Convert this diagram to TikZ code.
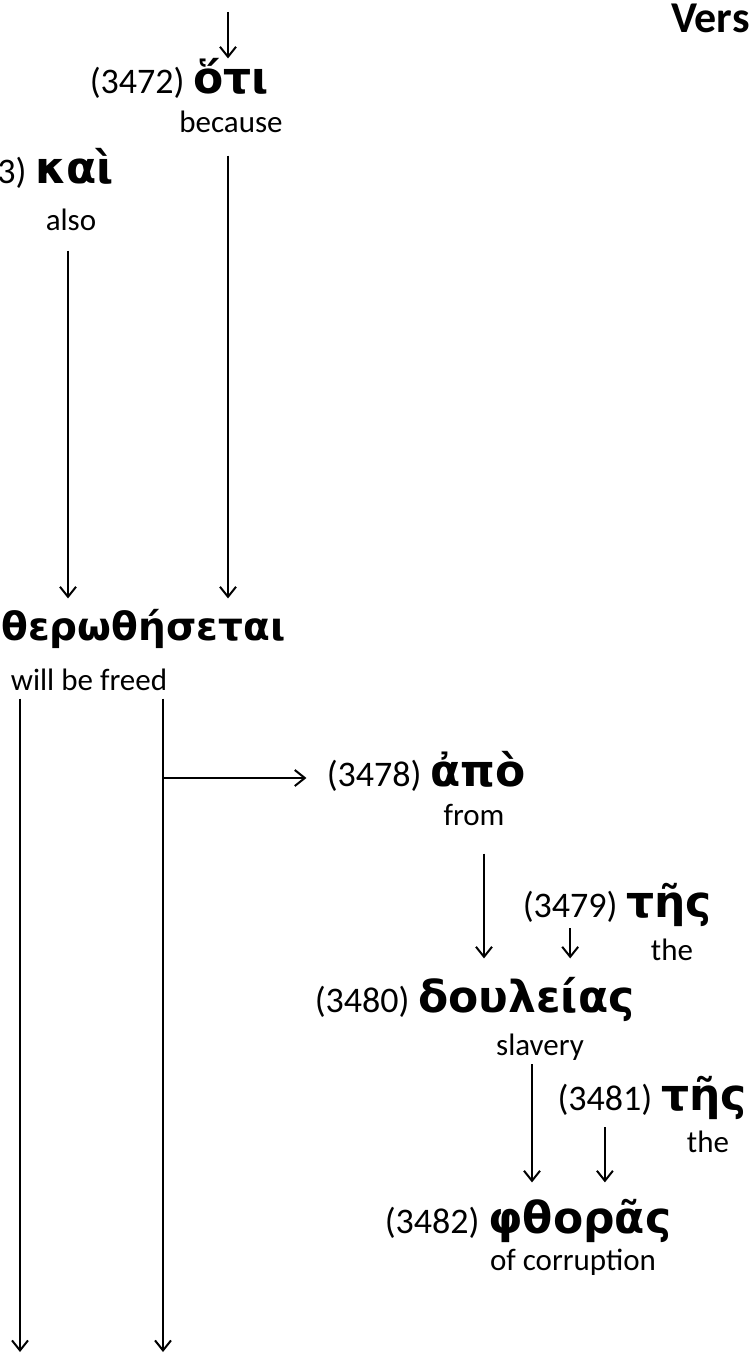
\documentclass[tikz,border=0pt]{standalone}
\usepackage{fontspec}
\setmainfont{Carlito}
\newfontfamily\grkfont{DejaVu Sans}
\usetikzlibrary{positioning}
\usetikzlibrary{arrows.meta}
\tikzstyle{word}=[font=\grkfont\bfseries\fontsize{22}{22}\selectfont, inner sep=0pt]
\tikzstyle{num}=[font=\fontsize{18}{18}\selectfont, inner sep=0pt]
\tikzstyle{gloss}=[font=\fontsize{15.5}{15.5}\selectfont, inner sep=0pt]
\tikzstyle{verse}=[font=\bfseries\fontsize{22}{22}\selectfont, inner sep=0pt]
\tikzstyle{link}=[-{Straight Barb[length=5pt,width=8pt]}, line width=1pt]

\begin{document}
\begin{tikzpicture}[x=0.5pt, y=-0.5pt]
    \useasboundingbox (0,0) rectangle (750,1354);

    \node[verse, anchor=base east] (verse) at (750,33) {Vers};

    % words, numbers and glosses
    \node[word, anchor=base west] (w3472) at (193,94) {ὅτι};
    \node[num, left=4pt of w3472.base west, anchor=base east] (n3472) {(3472)};
    \node[gloss, anchor=base] (g3472) at (231,133) {because};

    \node[word, anchor=base west] (w3473) at (35,184) {καὶ};
    \node[num, left=4pt of w3473.base west, anchor=base east] (n3473) {3)};
    \node[gloss, anchor=base] (g3473) at (71,230) {also};

    \node[word, anchor=base west, font=\grkfont\bfseries\fontsize{19.5}{19.5}\selectfont] (w3477) at (1,640) {θερωθήσεται};
    \node[gloss, anchor=base] (g3477) at (89,690) {will be freed};

    \node[word, anchor=base west] (w3478) at (430,786) {ἀπὸ};
    \node[num, left=4pt of w3478.base west, anchor=base east] (n3478) {(3478)};
    \node[gloss, anchor=base] (g3478) at (474,825) {from};

    \node[word, anchor=base west] (w3479) at (626,917) {τῆς};
    \node[num, left=4pt of w3479.base west, anchor=base east] (n3479) {(3479)};
    \node[gloss, anchor=base] (g3479) at (672,960) {the};

    \node[word, anchor=base west] (w3480) at (418,1012) {δουλείας};
    \node[num, left=4pt of w3480.base west, anchor=base east] (n3480) {(3480)};
    \node[gloss, anchor=base] (g3480) at (540,1055) {slavery};

    \node[word, anchor=base east] (w3481) at (747,1110) {τῆς};
    \node[num, left=4pt of w3481.base west, anchor=base east] (n3481) {(3481)};
    \node[gloss, anchor=base] (g3481) at (708,1152) {the};

    \node[word, anchor=base west] (w3482) at (488,1233) {φθορᾶς};
    \node[num, left=4pt of w3482.base west, anchor=base east] (n3482) {(3482)};
    \node[gloss, anchor=base] (g3482) at (573,1270) {of corruption};

    % free ends
    \coordinate (in)   at (228,12);
    \coordinate (out1) at (20,1352);
    \coordinate (out2) at (163,1352);
    \coordinate (fork) at (163,778);

    \draw[link] (in) -- (in |- w3472.north);
    \draw[link, shorten <=11pt, shorten >=5pt] (g3472.south -| in) -- (w3477.north -| in);
    \draw[link, shorten <=10pt, shorten >=5pt] (g3473.south -| 68,0) -- (w3477.north -| 68,0);
    \draw[link, shorten <=4pt] (g3477.south -| out1) -- (out1);
    \draw[link, shorten <=4pt] (g3477.south -| out2) -- (out2);
    \draw[link, shorten >=10pt] (fork) -- (fork -| n3478.west);
    \draw[link, shorten <=14pt, shorten >=9pt] (g3478.south -| 484,0) -- (w3480.north -| 484,0);
    \draw[link, shorten <=3pt, shorten >=9pt] (n3479.south) -- (w3480.north -| n3479.south);
    \draw[link, shorten <=2pt, shorten >=8pt] (g3480.south -| 532,0) -- (w3482.north -| 532,0);
    \draw[link, shorten <=6pt, shorten >=8pt] (n3481.south) -- (w3482.north -| n3481.south);
\end{tikzpicture}
\end{document}
